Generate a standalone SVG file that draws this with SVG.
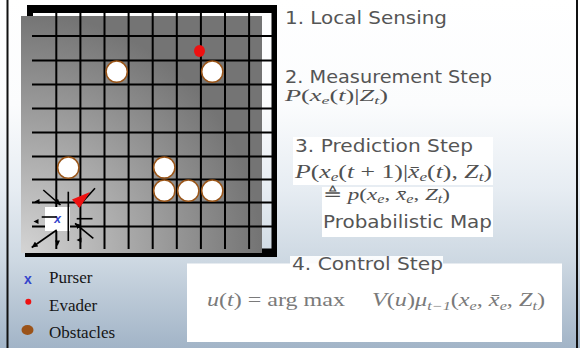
<svg xmlns="http://www.w3.org/2000/svg" width="580" height="348" viewBox="0 0 580 348">
<defs>
<linearGradient id="bg" x1="0" y1="0" x2="0" y2="1">
<stop offset="0" stop-color="#ffffff"/>
<stop offset="0.3" stop-color="#fbfcfd"/>
<stop offset="0.55" stop-color="#e6ecf2"/>
<stop offset="0.75" stop-color="#cdd8e2"/>
<stop offset="1" stop-color="#a2b4c7"/>
</linearGradient>
<radialGradient id="gray" gradientUnits="userSpaceOnUse" cx="21" cy="253" r="300">
<stop offset="0" stop-color="#d4d4d4"/>
<stop offset="0.8" stop-color="#747474"/>
</radialGradient>
<marker id="ah" viewBox="0 0 6 6" refX="6" refY="3" markerWidth="6" markerHeight="6" markerUnits="userSpaceOnUse" orient="auto">
<path d="M0,0 L6,3 L0,6 z" fill="#000"/>
</marker>
<style>
.frame{fill:#000}
.grid line{stroke:#000;stroke-width:2}
.obs{fill:#fff;stroke:#9a5518;stroke-width:1.5}
.sense{stroke:#000;stroke-width:1.6;fill:none}
.ah{fill:#000}
.step{font-family:"DejaVu Sans",Verdana,sans-serif;font-size:17px;fill:#555}
.math{font-family:"Liberation Serif","Times New Roman","DejaVu Serif",serif;fill:#505050}
.i{font-style:italic}
.leg{font-family:"Liberation Serif","Times New Roman",serif;font-size:17px;fill:#151515}
.box{fill:#fff}
.faint{fill:#7a7a7a}
</style>
</defs>

<rect x="0" y="0" width="580" height="348" fill="url(#bg)"/>
<line x1="7.5" y1="0" x2="7.5" y2="348" stroke="#111" stroke-width="2"/>
<line x1="577" y1="0" x2="577" y2="348" stroke="#111" stroke-width="2"/>

<g id="map">
<rect class="frame" x="27" y="5" width="250" height="8"/>
<rect class="frame" x="27" y="5" width="6" height="20"/>
<rect class="frame" x="271.5" y="5" width="5.5" height="252"/>
<rect class="frame" x="25" y="248.5" width="252" height="8.5"/>
<rect x="21" y="16" width="241" height="237" fill="url(#gray)"/>
<g class="grid">
<line x1="56.3" y1="13" x2="56.3" y2="249"/>
<line x1="80.4" y1="13" x2="80.4" y2="249"/>
<line x1="104.5" y1="13" x2="104.5" y2="249"/>
<line x1="128.6" y1="13" x2="128.6" y2="249"/>
<line x1="152.7" y1="13" x2="152.7" y2="249"/>
<line x1="176.8" y1="13" x2="176.8" y2="249"/>
<line x1="200.9" y1="13" x2="200.9" y2="249"/>
<line x1="225" y1="13" x2="225" y2="249"/>
<line x1="249.1" y1="13" x2="249.1" y2="249"/>
<line x1="32" y1="36" x2="272" y2="36"/>
<line x1="32" y1="60.5" x2="272" y2="60.5"/>
<line x1="32" y1="84.5" x2="272" y2="84.5"/>
<line x1="32" y1="108.5" x2="272" y2="108.5"/>
<line x1="32" y1="132.5" x2="272" y2="132.5"/>
<line x1="32" y1="156.5" x2="272" y2="156.5"/>
<line x1="32" y1="179.5" x2="272" y2="179.5"/>
<line x1="32" y1="202.5" x2="272" y2="202.5"/>
<line x1="32" y1="226.5" x2="272" y2="226.5"/>
</g>
</g>

<g id="obstacles">
<circle class="obs" cx="116.7" cy="71.7" r="10.6"/>
<circle class="obs" cx="212.3" cy="71.7" r="10.6"/>
<circle class="obs" cx="68.3" cy="167.7" r="10.6"/>
<circle class="obs" cx="164.3" cy="167.5" r="10.6"/>
<circle class="obs" cx="164.3" cy="190.7" r="10.6"/>
<circle class="obs" cx="188.3" cy="190.7" r="10.6"/>
<circle class="obs" cx="212.3" cy="190.7" r="10.6"/>
</g>

<g id="evader">
<ellipse cx="199.5" cy="51" rx="5.5" ry="6" fill="#ee1111"/>
</g>

<g id="purser">
<rect x="45" y="207" width="25" height="24" fill="#fff"/>
<text x="57.5" y="223" text-anchor="middle" font-family="Liberation Sans,Arial,sans-serif" font-size="12" font-weight="bold" font-style="italic" fill="#3344cc">x</text>
<line class="sense" x1="43.3" y1="190" x2="60.5" y2="205" marker-end="url(#ah)"/>
<line class="sense" x1="68.3" y1="191.7" x2="68.3" y2="241"/>
<line class="sense" x1="95" y1="188.3" x2="78.3" y2="206.7"/>
<polygon points="90,192 72,199.5 79.5,208" fill="#ee1111"/>
<line class="sense" x1="41.7" y1="217" x2="56.7" y2="217"/>
<line class="sense" x1="76.7" y1="218.7" x2="92.5" y2="218.7"/>
<line class="sense" x1="93.3" y1="238.3" x2="75" y2="223.3" marker-end="url(#ah)"/>
<line class="sense" x1="56.7" y1="230" x2="31.7" y2="247.5" marker-end="url(#ah)"/>
<polygon class="ah" points="34.5,201.5 39.5,199 39.5,204"/>
<polygon class="ah" points="33.5,221.5 38.5,219 38.5,224"/>
<polygon class="ah" points="57.5,246 55,240.5 60,240.5"/>
<polygon class="ah" points="76.5,240 81.5,237.5 81.5,242.5"/>
</g>

<g id="legend">
<text x="28" y="284" text-anchor="middle" font-family="Liberation Sans,Arial,sans-serif" font-size="14" font-weight="bold" fill="#3344cc">x</text>
<circle cx="28.3" cy="301.7" r="3" fill="#ee1111"/>
<ellipse cx="27.5" cy="330" rx="6" ry="5" fill="#9b5319"/>
<text class="leg" x="49" y="283">Purser</text>
<text class="leg" x="49" y="310.5">Evader</text>
<text class="leg" x="49" y="338">Obstacles</text>
</g>

<g id="step1">
<text class="step" x="285" y="24" textLength="162" lengthAdjust="spacingAndGlyphs">1.  Local Sensing</text>
</g>

<g id="step2">
<text class="step" x="285" y="83.3" textLength="207" lengthAdjust="spacingAndGlyphs">2.  Measurement Step</text>
<text class="math" x="285" y="101" font-size="16" textLength="103" lengthAdjust="spacingAndGlyphs"><tspan class="i">P</tspan>(<tspan class="i">x</tspan><tspan class="i" font-size="11" dy="3">e</tspan><tspan dy="-3">(</tspan><tspan class="i">t</tspan>)|<tspan class="i">Z</tspan><tspan class="i" font-size="11" dy="3">t</tspan><tspan dy="-3">)</tspan></text>
</g>

<g id="step3">
<rect class="box" x="293" y="137" width="200" height="48"/>
<rect class="box" x="322" y="187" width="171" height="50"/>
<text class="step" x="295" y="152" textLength="178" lengthAdjust="spacingAndGlyphs">3.  Prediction Step</text>
<text class="math" x="295" y="178" font-size="18" textLength="197" lengthAdjust="spacingAndGlyphs"><tspan class="i">P</tspan>(<tspan class="i">x</tspan><tspan class="i" font-size="12" dy="3">e</tspan><tspan dy="-3">(</tspan><tspan class="i">t</tspan> + 1)|<tspan class="i">x̄</tspan><tspan class="i" font-size="12" dy="3">e</tspan><tspan dy="-3">(</tspan><tspan class="i">t</tspan>), <tspan class="i">Z</tspan><tspan class="i" font-size="12" dy="3">t</tspan><tspan dy="-3">)</tspan></text>
<text class="math" x="323" y="200" font-size="17" textLength="127" lengthAdjust="spacingAndGlyphs">≜ <tspan class="i">p</tspan>(<tspan class="i">x</tspan><tspan class="i" font-size="12" dy="3">e</tspan><tspan dy="-3">, </tspan><tspan class="i">x̄</tspan><tspan class="i" font-size="12" dy="3">e</tspan><tspan dy="-3">, </tspan><tspan class="i">Z</tspan><tspan class="i" font-size="12" dy="3">t</tspan><tspan dy="-3">)</tspan></text>
<text class="step" x="323" y="228" textLength="169" lengthAdjust="spacingAndGlyphs">Probabilistic Map</text>
</g>

<g id="step4">
<rect class="box" x="187" y="263.5" width="375" height="78.5"/>
<rect class="box" x="290" y="256" width="153" height="17" opacity="0.9"/>
<text class="step" x="292" y="270" textLength="151" lengthAdjust="spacingAndGlyphs">4.  Control Step</text>
<text class="math faint" x="207" y="306" font-size="18" textLength="138" lengthAdjust="spacingAndGlyphs"><tspan class="i">u</tspan>(<tspan class="i">t</tspan>) = arg max</text>
<text class="math faint" x="372" y="306" font-size="18" textLength="173" lengthAdjust="spacingAndGlyphs"><tspan class="i">V</tspan>(<tspan class="i">u</tspan>)<tspan class="i">μ</tspan><tspan class="i" font-size="12" dy="4">t−1</tspan><tspan dy="-4">(</tspan><tspan class="i">x</tspan><tspan class="i" font-size="12" dy="4">e</tspan><tspan dy="-4">, </tspan><tspan class="i">x̄</tspan><tspan class="i" font-size="12" dy="4">e</tspan><tspan dy="-4">, </tspan><tspan class="i">Z</tspan><tspan class="i" font-size="12" dy="4">t</tspan><tspan dy="-4">)</tspan></text>
</g>
</svg>
